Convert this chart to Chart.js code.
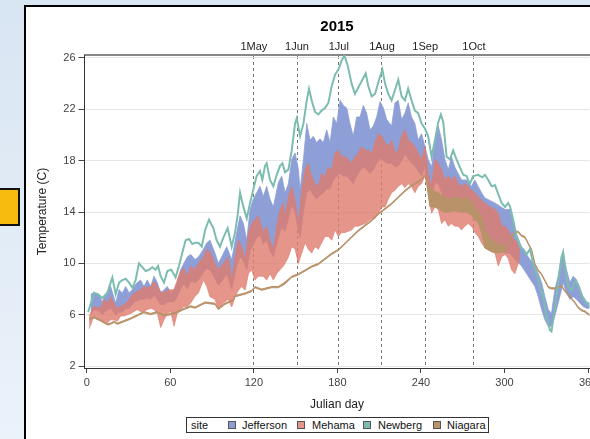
<!DOCTYPE html>
<html>
<head>
<meta charset="utf-8">
<script src="https://cdn.jsdelivr.net/npm/chart.js@4.4.0/dist/chart.umd.min.js"></script>
<style>
  html, body { margin: 0; padding: 0; width: 590px; height: 439px; overflow: hidden; }
  body { background: linear-gradient(to bottom, #d8e5f2, #ebf2fa); position: relative; font-family: "Liberation Sans", Arial, sans-serif; }
  #panel { position: absolute; left: 24px; top: 5px; width: 700px; height: 500px; background: #fff; border-left: 2px solid #000; border-top: 2px solid #000; box-sizing: border-box; }
  #ybox { position: absolute; left: -4px; top: 188px; width: 24px; height: 38px; background: #f7bb0f; border: 2px solid #111; box-sizing: border-box; }
  #c { position: absolute; left: 26px; top: 7px; }
  #legend { position: absolute; left: 186px; top: 417px; width: 303px; height: 16px; border: 1px solid #333; box-sizing: border-box; background: #fff; font-size: 11px; color: #111; }
  #legend span { position: absolute; top: 1px; line-height: 13px; white-space: nowrap; }
  #legend i { position: absolute; top: 3px; width: 8px; height: 8px; border: 1px solid #555; box-sizing: border-box; }
</style>
</head>
<body>
<div id="panel"></div>
<div id="ybox"></div>
<canvas id="c" width="614" height="432"></canvas>
<div id="legend"></div>
<script>
// ---------------- data ----------------
const chartTitle = '2015';
const siteNames = ['Jefferson', 'Mehama', 'Newberg', 'Niagara'];
const xTicks = [0, 60, 120, 180, 240, 300, 360];
const yTicks = [2, 6, 10, 14, 18, 22, 26];
const monthDays = [120, 151, 181, 212, 243, 278];
const monthLabels = ['1May', '1Jun', '1Jul', '1Aug', '1Sep', '1Oct'];

const jeffersonDay = [2.8,5.2,8.8,11.2,13.6,17.2,20.8,23.2,25.6,28,30.4,32.8,34,36.3,38.7,41.1,43.5,45.9,48.3,50.7,53.1,55.5,57.9,60.3,62.7,65,67.4,69.8,72.2,74.6,77.8,80.2,83.8,86.2,88.5,92.1,94.5,96.9,100.5,104.1,107.7,110.1,112.5,114.9,117.3,119.6,122,124.4,126.8,129.2,131.6,134,137.6,140,142.4,144.8,147.2,149.6,152,153.2,155.6,158,160.3,162.7,165.1,167.5,169.9,172.3,174.7,177.1,179.5,181.9,184.3,186.7,189,191.4,193.8,196.2,198.6,201,203.4,205.8,208.2,210.6,213,215.4,218.9,221.3,223.7,226.1,228.5,230.8,233.2,235.6,238,240.4,242.8,245.2,247.6,250,252.4,254.8,257.2,259.6,261.9,264.3,266.7,269.1,272.7,276.3,278.7,281,283.5,285.9,289.5,293.1,300.3,303.8,307.4,312.2,317,321.8,324.2,326.6,329,331.4,333.7,336.1,338.5,340.9,342.1,344.5,346.9,349.3,351.7,354.1,356.5,358.9,361.3];
const jeffersonLo = [6.0,6.4,6.3,6.0,6.3,6.5,6.0,6.2,6.2,6.5,6.5,6.8,7.0,7.1,7.2,7.2,7.3,7.2,7.5,7.2,6.8,6.8,7.0,7.0,7.0,7.4,8.0,8.4,8.0,8.6,8.5,8.7,9.3,9.6,9.5,8.8,8.3,8.6,9.2,8.0,9.8,10.5,10.2,9.5,11.0,11.5,12.0,12.2,11.5,11.8,11.0,10.5,12.0,12.8,12.5,13.5,14.5,14.0,12.5,12.0,14.0,15.5,15.8,15.3,15.0,15.3,15.5,15.8,15.8,16.5,16.8,17.0,16.8,16.8,16.5,16.2,16.8,17.2,17.5,17.3,17.0,17.3,17.8,18.2,18.0,17.8,17.8,17.5,17.6,18.0,18.5,18.2,17.8,17.6,17.2,16.8,17.5,15.8,14.8,16.3,16.2,15.5,14.8,14.5,14.8,14.6,14.4,14.0,14.0,13.8,13.6,13.2,12.8,12.1,11.9,11.6,10.8,10.8,10.3,9.8,9.0,8.2,7.4,6.4,5.6,5.1,5.1,5.9,6.9,7.95,8.5,7.7,7.2,7.4,7.2,6.9,6.65,6.5,6.5];
const jeffersonHi = [7.6,7.7,7.55,7.0,7.6,8.2,6.9,7.95,7.7,8.2,7.7,7.95,8.2,8.5,8.7,8.2,8.7,8.2,9.0,8.5,7.7,7.95,8.2,7.7,7.95,8.5,9.5,10.0,10.5,10.7,10.3,10.5,11.1,11.6,11.8,10.8,10.0,10.5,11.3,10.3,12.4,13.7,13.1,11.8,14.2,15.0,15.5,16.0,15.2,16.0,15.0,14.4,16.3,16.8,15.5,16.2,18.1,18.6,17.3,15.7,18.1,20.9,19.6,19.9,19.4,19.7,19.4,20.4,19.4,21.4,20.9,22.7,22.3,22.1,20.9,19.9,21.4,21.4,22.3,21.7,20.4,20.7,21.4,22.6,22.1,21.2,20.7,22.5,22.7,21.2,21.7,22.5,21.4,20.9,19.6,20.1,19.1,18.1,17.5,19.6,20.7,19.6,18.1,17.3,18.3,17.5,17.0,16.5,16.5,16.0,16.5,16.0,15.5,15.1,14.9,14.7,14.2,14.2,12.6,11.3,10.5,9.8,9.2,8.5,7.4,6.4,6.1,7.95,9.0,10.5,10.7,9.5,8.5,9.0,8.7,7.95,7.4,7.0,6.9];

const mehamaDay = [1.7,5.2,10,12.4,14.8,17.2,19.6,22,24.4,26.8,29.2,31.6,34,36.3,38.7,41.1,43.5,45.9,48.3,50.7,53.1,55.5,57.9,60.3,62.7,65,67.4,69.8,72.2,74.6,77.5,80.2,83.8,86.2,88.5,92.1,94.5,98.1,101.7,104.1,106.5,108.9,111.3,113.7,116.1,118.4,120.8,123.2,126.8,129.2,131.6,134,136.4,138.8,141.2,142.4,144.8,147.2,149.6,152,154.4,156.8,159.1,161.5,163.9,166.3,168.7,171.1,173.5,175.9,178.3,180.7,183.1,185.5,187.9,190.2,192.6,195,197.4,199.8,202.2,204.6,207,209.4,211.8,214.2,216.5,218.9,221.3,223.7,226.1,228.5,230.8,233.2,235.6,238,240.4,242.8,245.2,247.6,250,252.4,254.8,257.2,259.6,261.9,264.3,266.7,269.1,271.5,273.9,276.3,278.7,281.1,283.5,285.9,289.5,293.1,295.5,297.9,300.3,302.6,305,307.4,309.8,311];
const mehamaLo = [4.9,5.9,5.6,5.5,5.35,5.6,5.6,5.5,5.9,5.9,6.0,6.1,6.25,6.4,6.25,6.25,6.4,6.5,6.4,6.1,5.0,5.6,6.1,6.25,5.1,6.1,6.4,6.65,6.65,6.9,7.4,7.7,8.7,8.2,7.4,7.2,6.4,6.9,7.2,6.6,7.4,7.9,8.2,7.9,9.2,9.5,8.7,9.0,9.0,8.7,9.2,8.7,9.2,9.5,9.8,10.0,10.5,11.3,11.1,10.0,10.8,11.6,11.1,10.8,11.3,11.1,11.6,12.1,12.1,11.8,12.6,12.1,12.4,12.4,12.5,12.6,12.9,12.9,13.0,13.1,13.3,13.5,13.5,13.9,14.4,14.4,15.0,15.5,15.7,16.0,16.2,15.9,16.2,16.0,15.5,16.0,16.2,16.8,15.5,13.9,14.4,14.2,13.1,13.4,12.9,13.1,12.9,12.9,12.6,12.9,13.1,12.9,12.4,12.1,11.6,11.2,11.0,10.8,9.8,10.5,10.7,10.4,9.5,9.2,10.0,10.5];
const mehamaHi = [5.9,6.65,6.5,7.2,6.9,7.4,6.9,6.5,6.65,6.8,7.0,7.4,7.7,7.8,7.95,8.2,8.1,8.2,8.6,8.2,7.8,7.7,7.95,7.95,7.95,8.7,9.4,9.6,9.0,9.8,9.5,10.0,10.5,11.1,10.9,10.0,9.5,10.0,10.5,8.7,10.5,11.8,11.3,10.3,12.4,13.1,13.4,13.7,12.4,12.9,11.8,11.1,12.9,14.2,14.7,13.6,15.2,16.0,14.9,13.1,15.7,17.3,17.8,16.8,16.2,16.0,17.0,16.8,17.5,17.3,18.6,18.8,18.3,18.3,18.1,17.8,18.3,18.6,19.1,18.8,18.8,18.6,19.4,20.1,19.9,19.4,19.1,19.6,18.6,18.8,19.9,20.4,19.6,19.4,19.1,18.6,18.1,19.1,17.0,16.0,18.1,17.8,17.3,16.5,16.8,16.5,16.8,16.2,16.0,16.2,16.0,15.7,15.5,15.2,14.9,14.7,14.4,14.2,13.9,12.9,12.9,12.6,12.1,11.8,11.6,11.1];

const newbergDay = [1,3,5.2,8,11.2,14.8,18.4,20.8,23.2,25.6,28,30.4,32.8,35.1,37.5,39.9,42.3,44.7,47.1,49.5,51.2,53.1,55.5,57.9,60.7,63.8,66.2,68.6,71,73.4,75.8,78,80.2,82.6,85,87.8,90.9,93.3,95.7,98.1,101.2,104.1,106.5,108.4,110.1,112.5,114.9,117.3,119.6,122,124.4,126.1,128,129.2,131.6,134,136.4,138.8,140.5,142.4,144.8,147.2,149.6,150.8,153.2,155.6,158,159.6,161.5,163.9,166.3,168.7,171.1,173.5,175.9,178.3,180.7,183.1,185,187.4,190.2,192.6,195,197.9,200.3,202.2,204.6,207,209.9,212.3,214.2,216.5,218.9,221.3,223.7,226.1,228.5,230.8,233.2,235.6,238,240.4,242.8,245.2,247.6,250,252.4,254.3,256,258.4,260.8,263.1,265.5,267.9,270.3,272.7,275.1,277.5,281,284,285.9,288.3,290.7,293.1,295.5,297.9,300.3,302.6,304,306.2,308.6,311,313.4,315.8,318.2,320.6,323,325.4,327.8,330.2,332.6,333.7,336.1,338.5,340.9,342.1,343.8,345.7,348.1,351,353.4,355.8,358.9,361.3];
const newbergTemp = [6.2,6.9,7.7,7.6,7.3,7.7,8.9,7.6,8.5,8.7,8.8,8.5,8.1,8.7,10.0,9.7,9.4,9.5,9.7,9.5,9.8,9.0,8.5,9.4,9.5,8.9,9.8,10.8,11.8,11.9,11.5,11.6,11.6,11.3,12.6,13.4,12.75,11.8,11.3,12.0,12.75,11.3,12.4,13.8,15.5,14.4,13.5,14.7,15.75,16.8,17.2,16.5,17.6,17.8,16.5,16.0,16.9,17.6,17.8,17.1,17.3,18.8,20.9,21.3,19.9,20.9,22.7,23.6,22.7,21.8,21.6,21.9,22.1,22.5,23.8,24.7,25.1,25.8,26.2,25.4,24.0,23.2,23.7,24.3,24.8,23.8,23.0,23.2,24.3,25.1,24.0,23.2,22.7,23.5,24.3,23.0,22.7,23.6,22.7,21.9,21.7,20.9,20.5,19.9,18.3,19.6,21.0,21.6,21.0,18.3,18.1,18.8,18.1,17.5,16.9,16.8,16.2,16.8,16.9,16.7,16.9,16.5,16.0,16.1,15.4,14.7,14.4,14.7,14.4,13.4,12.1,11.3,11.1,10.7,11.1,10.0,9.2,8.2,7.4,5.9,4.8,4.7,6.4,8.5,10.5,10.9,9.5,8.2,7.9,8.7,8.2,7.4,6.9,6.6];

const niagaraDay = [1.7,5.2,10,14.8,17.2,19.6,22,26.8,31.5,36.3,41,45.9,50.7,55.5,60.3,65,69.8,74.6,77.8,85,92.1,94.5,99.3,105.3,106.5,113.7,118.4,120.8,125.6,132.8,137.6,142.4,147.2,152,156.8,161.5,166.3,171.1,175.9,180.7,185.5,190.2,195,199.8,204.6,209.4,214.2,218.9,223.7,228.5,233.2,238,240.4,242.8,244,245.2,246.5,250,252.4,256,260,264,268,272,276,278.7,281,283.5,285.9,290.7,295.5,300.3,302.6,305,307.4,309.8,312.2,314.6,317,319.4,321.8,324.2,326.6,329,331.4,333.7,336.1,338.5,340.9,343.3,345.7,348.1,350.5,352.9,355.3,357.7,361.3];
const niagaraLo = [5.6,5.75,5.5,5.2,5.25,5.4,5.25,5.45,5.65,5.9,6.15,6.0,6.15,5.9,6.0,6.15,6.4,6.6,6.5,6.9,6.8,6.4,6.8,7.1,7.4,7.6,7.8,8.1,7.9,8.1,8.1,8.4,8.9,9.1,9.4,9.7,9.9,10.3,10.7,11.0,11.5,12.0,12.5,12.9,13.3,13.8,14.2,14.6,15.1,15.6,16.0,16.3,16.5,16.8,16.6,15.3,14.4,14.4,14.3,14.0,14.0,14.1,14.0,14.0,13.8,13.4,13.2,12.4,11.2,10.9,10.8,10.9,11.5,12.0,12.4,12.4,12.1,12.0,11.5,11.0,9.9,9.4,9.1,8.6,8.1,8.0,8.0,8.1,8.2,7.8,7.5,7.2,6.9,6.5,6.3,6.2,5.9];
const niagaraHi = [5.7,5.85,5.6,5.3,5.35,5.5,5.35,5.55,5.75,6.0,6.25,6.1,6.25,6.0,6.1,6.25,6.5,6.7,6.6,7.0,6.9,6.5,6.9,7.2,7.5,7.7,7.9,8.2,8.0,8.2,8.2,8.55,9.0,9.2,9.5,9.8,10.0,10.4,10.8,11.1,11.6,12.1,12.6,13.0,13.4,13.9,14.3,14.7,15.2,15.7,16.1,16.4,16.6,16.9,16.8,15.9,15.9,15.6,15.5,15.2,15.0,15.2,15.0,15.1,14.9,14.4,14.0,13.6,12.6,11.8,11.5,11.3,11.6,12.1,12.5,12.5,12.2,12.1,11.6,11.1,10.0,9.5,9.2,8.7,8.2,8.1,8.1,8.2,8.3,7.9,7.6,7.3,7.0,6.6,6.4,6.3,6.0];

// ---------------- styles ----------------
const FONT = '"Liberation Sans", Arial, sans-serif';
const C_JEF = 'rgb(141,159,214)';
const C_MEH = 'rgba(224,122,109,0.8)';
const C_NEW = 'rgb(124,189,176)';
const C_NIA = 'rgb(184,147,106)';
const swatch = ['#8c9ed5', '#e6958a', '#7cbcb0', '#b8936a'];

const pts = (xs, ys) => xs.map((x, i) => ({ x: x, y: ys[i] }));

// legend (HTML text)
(function () {
  const lg = document.getElementById('legend');
  const s0 = document.createElement('span'); s0.textContent = 'site'; s0.style.left = '4px'; lg.appendChild(s0);
  const swLeft = [41, 110, 176, 246];
  const txLeft = [55, 125, 191, 260];
  siteNames.forEach((n, i) => {
    const sq = document.createElement('i'); sq.style.left = swLeft[i] + 'px'; sq.style.background = swatch[i]; lg.appendChild(sq);
    const t = document.createElement('span'); t.textContent = n; t.style.left = txLeft[i] + 'px'; lg.appendChild(t);
  });
})();

Chart.defaults.font.family = FONT;

const lineBase = { pointRadius: 0, pointHoverRadius: 0, tension: 0 };

new Chart(document.getElementById('c'), {
  type: 'line',
  data: {
    datasets: [
      Object.assign({}, lineBase, { label: siteNames[2], data: pts(newbergDay, newbergTemp), borderColor: C_NEW, borderWidth: 2, fill: false, order: 0 }),
      Object.assign({}, lineBase, { label: siteNames[3] + ' lo', data: pts(niagaraDay, niagaraLo), borderColor: C_NIA, borderWidth: 1, fill: false, order: 1 }),
      Object.assign({}, lineBase, { label: siteNames[3], data: pts(niagaraDay, niagaraHi), borderColor: C_NIA, borderWidth: 1, fill: 1, backgroundColor: C_NIA, order: 1 }),
      Object.assign({}, lineBase, { label: siteNames[1] + ' lo', data: pts(mehamaDay, mehamaLo), borderColor: C_MEH, borderWidth: 0.8, fill: false, order: 2 }),
      Object.assign({}, lineBase, { label: siteNames[1], data: pts(mehamaDay, mehamaHi), borderColor: C_MEH, borderWidth: 0.8, fill: 3, backgroundColor: C_MEH, order: 2 }),
      Object.assign({}, lineBase, { label: siteNames[0] + ' lo', data: pts(jeffersonDay, jeffersonLo), borderColor: C_JEF, borderWidth: 0.8, fill: false, order: 3 }),
      Object.assign({}, lineBase, { label: siteNames[0], data: pts(jeffersonDay, jeffersonHi), borderColor: C_JEF, borderWidth: 0.8, fill: 5, backgroundColor: C_JEF, order: 3 })
    ]
  },
  options: {
    responsive: false,
    devicePixelRatio: 1,
    animation: false,
    events: [],
    layout: { padding: { left: 0, right: 50.5, top: 0, bottom: 26.8 } },
    plugins: {
      legend: { display: false },
      tooltip: { enabled: false },
      title: {
        display: true, text: chartTitle, fullSize: false, align: 'center', color: '#000',
        font: { family: FONT, size: 15, weight: 'bold' }, padding: { top: 10.5, bottom: 0 }
      }
    },
    scales: {
      x: {
        type: 'linear', position: 'bottom', min: -1.6, max: 361,
        afterBuildTicks: (a) => { a.ticks = xTicks.map(v => ({ value: v })); },
        afterFit: (s) => { s.height = 44.2; },
        ticks: { font: { size: 11 }, color: '#444', padding: 3.4, maxRotation: 0, autoSkip: false, callback: (v) => String(v) },
        grid: { drawOnChartArea: false, drawTicks: true, tickLength: 5, tickColor: '#444', tickWidth: 1 },
        border: { display: true, color: '#333', width: 1 },
        title: { display: true, text: 'Julian day', color: '#222', font: { size: 12 }, padding: { top: 0, bottom: 0 } }
      },
      x2: {
        type: 'linear', position: 'top', min: -1.6, max: 361, z: 1,
        afterBuildTicks: (a) => { a.ticks = monthDays.map(v => ({ value: v })); },
        afterFit: (s) => { s.height = 19.5; },
        ticks: { font: { size: 11 }, color: '#222', padding: 1.7, maxRotation: 0, autoSkip: false, callback: (v, i) => monthLabels[i] },
        grid: { drawOnChartArea: true, drawTicks: false, color: '#777', lineWidth: 1 },
        border: { display: true, color: '#888', width: 2, dash: [3, 3] }
      },
      y: {
        type: 'linear', position: 'left', min: 1.85, max: 26.23,
        afterBuildTicks: (a) => { a.ticks = yTicks.map(v => ({ value: v })); },
        afterFit: (s) => { s.width = 58.5; },
        ticks: { font: { size: 11 }, color: '#444', padding: 3, callback: (v) => String(v) },
        grid: { color: '#e6e6e6', lineWidth: 1, drawTicks: true, tickLength: 6, tickColor: '#444', tickWidth: 1 },
        border: { display: true, color: '#333', width: 1 },
        title: { display: true, text: 'Temperature (C)', color: '#222', font: { size: 12 }, padding: { top: 9.8, bottom: 0 } }
      }
    }
  }
});
</script>
</body>
</html>
